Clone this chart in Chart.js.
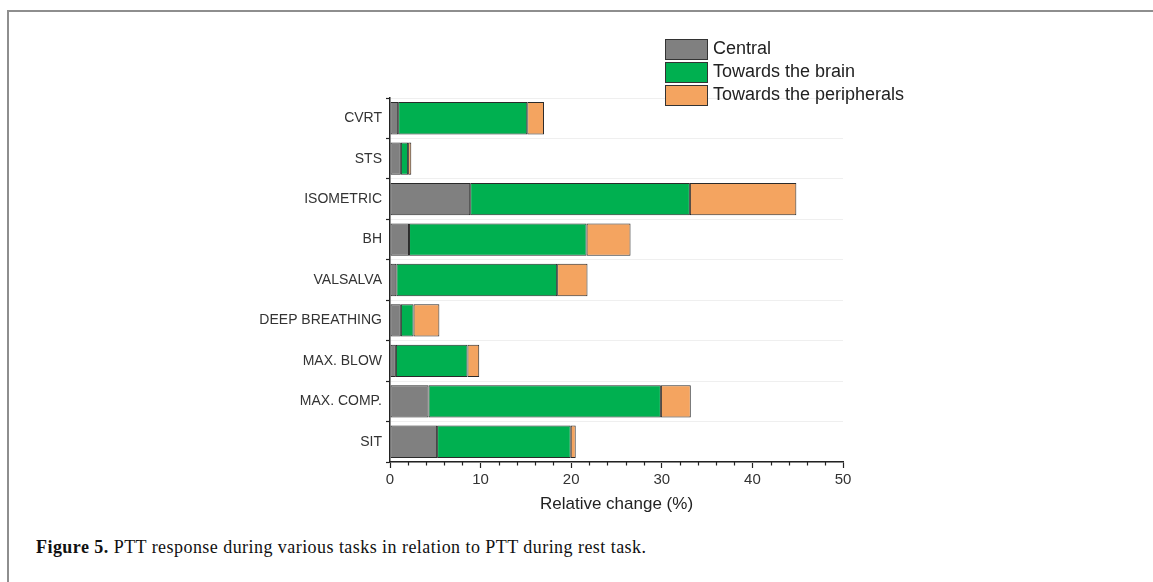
<!DOCTYPE html>
<html lang="en">

<head>
    <meta charset="UTF-8" />
    <title>Figure 5 - PTT response</title>
    <script src="https://cdn.jsdelivr.net/npm/chart.js"></script>
    <style>
        body { margin: 0; background: #fff; }
        #page { position: relative; width: 1153px; height: 582px; overflow: hidden; }
        #frame {
            position: absolute; left: 7px; top: 10px; width: 1200px; height: 620px;
            border-left: 2px solid #8e8e8e; border-top: 2px solid #8e8e8e;
        }
        #wrap { position: absolute; left: 0; top: 0; width: 1153px; height: 530px; }
        #caption {
            position: absolute; left: 36px; top: 537px; white-space: nowrap;
            font-family: "Liberation Serif", "DejaVu Serif", serif; font-size: 18px;
            letter-spacing: 0.45px; color: #111;
        }
    </style>
</head>

<body>
    <div id="page">
        <div id="frame"></div>
        <div id="wrap"><canvas id="grafica"></canvas></div>
        <div id="caption"><b>Figure 5.</b> PTT response during various tasks in relation to PTT during rest task.</div>
    </div>

    <script>
        // datos (% de cambio relativo)
        const tareas = ["CVRT", "STS", "ISOMETRIC", "BH", "VALSALVA", "DEEP BREATHING", "MAX. BLOW", "MAX. COMP.", "SIT"];
        const central = [0.9, 1.2, 8.85, 2.1, 0.7, 1.2, 0.65, 4.25, 5.2];
        const haciaCerebro = [14.25, 0.8, 24.25, 19.6, 17.75, 1.4, 7.9, 25.65, 14.75];
        const haciaPerifericos = [1.85, 0.35, 11.75, 4.85, 3.35, 2.85, 1.3, 3.3, 0.55];
        const nombresSeries = ["Central", "Towards the brain", "Towards the peripherals"];
        const coloresSeries = ["#808080", "#00b050", "#f4a460"];
        const ticksX = [0, 10, 20, 30, 40, 50];

        const fuente = '"Liberation Sans", Arial, sans-serif';

        // leyenda dibujada a mano, arriba a la derecha
        const leyenda = {
            id: "leyenda",
            afterDraw(chart) {
                const ctx = chart.ctx;
                ctx.save();
                ctx.font = "18px " + fuente;
                ctx.textBaseline = "middle";
                chart.data.datasets.forEach((ds, i) => {
                    const y = 39 + i * 23;
                    ctx.fillStyle = ds.backgroundColor;
                    ctx.fillRect(665, y, 42, 20);
                    ctx.strokeStyle = "#333";
                    ctx.lineWidth = 1;
                    ctx.strokeRect(665.5, y + 0.5, 42, 20);
                    ctx.fillStyle = "#222";
                    ctx.fillText(ds.label, 713, y + 10);
                });
                ctx.restore();
            }
        };

        // ticks menores del eje x
        const ticksMenores = {
            id: "ticksMenores",
            afterDraw(chart) {
                const sx = chart.scales.x;
                const ctx = chart.ctx;
                ctx.save();
                ctx.strokeStyle = "#222";
                ctx.lineWidth = 1.2;
                sx.ticks.forEach(t => {
                    if (ticksX.includes(t.value)) return;
                    const px = Math.round(sx.getPixelForValue(t.value)) + 0.5;
                    ctx.beginPath();
                    ctx.moveTo(px, sx.top);
                    ctx.lineTo(px, sx.top + 3.5);
                    ctx.stroke();
                });
                ctx.restore();
            }
        };

        const valores = [central, haciaCerebro, haciaPerifericos];
        const datasets = valores.map((d, i) => ({
            label: nombresSeries[i],
            data: d,
            backgroundColor: coloresSeries[i],
            borderColor: "#2a2a2a",
            borderWidth: 1,
            borderSkipped: false,
            barPercentage: 0.8,
            categoryPercentage: 1
        }));

        new Chart(document.getElementById("grafica"), {
            type: "bar",
            data: { labels: tareas, datasets },
            plugins: [leyenda, ticksMenores],
            options: {
                indexAxis: "y",
                responsive: true,
                maintainAspectRatio: false,
                animation: false,
                layout: { padding: { top: 98, right: 310, left: 0, bottom: 0 } },
                plugins: {
                    legend: { display: false },
                    tooltip: { enabled: false }
                },
                scales: {
                    x: {
                        stacked: true,
                        min: 0,
                        max: 50,
                        afterFit: s => { s.height = 68; },
                        ticks: {
                            stepSize: 2,
                            autoSkip: false,
                            maxRotation: 0,
                            padding: 3,
                            color: "#333",
                            font: { family: fuente, size: 15 },
                            callback: v => ticksX.includes(v) ? v : ""
                        },
                        grid: {
                            drawOnChartArea: false,
                            tickLength: 6,
                            tickWidth: 1.2,
                            tickColor: c => ticksX.includes(c.tick && c.tick.value) ? "#222" : "rgba(0,0,0,0)"
                        },
                        border: { color: "#222", width: 1.5 },
                        title: {
                            display: true,
                            text: "Relative change (%)",
                            color: "#222",
                            font: { family: fuente, size: 17 },
                            padding: { top: 0, bottom: 15 }
                        }
                    },
                    y: {
                        stacked: true,
                        afterFit: s => { s.width = 390; },
                        ticks: {
                            padding: 4,
                            color: "#333",
                            font: { family: fuente, size: 14 }
                        },
                        grid: {
                            color: "#efefef",
                            tickColor: "#222",
                            tickLength: 4,
                            tickWidth: 1.2
                        },
                        border: { color: "#222", width: 1.5 }
                    }
                }
            }
        });
    </script>
</body>

</html>
